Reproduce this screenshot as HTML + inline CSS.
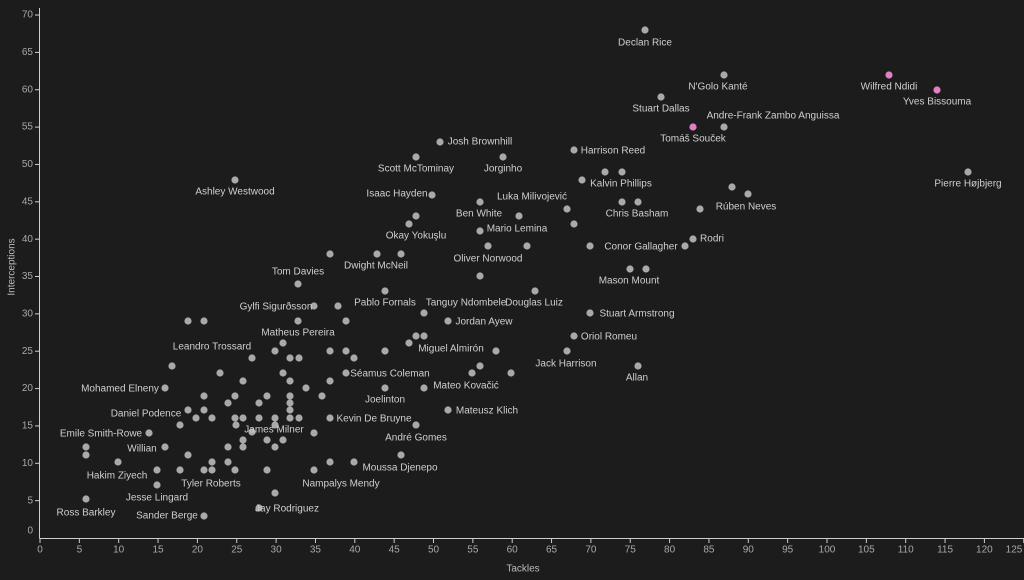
<!DOCTYPE html>
<html><head><meta charset="utf-8"><style>
html,body{margin:0;padding:0;background:#1c1c1c;}
svg{display:block;font-family:"Liberation Sans","DejaVu Sans",sans-serif;}
.l{fill:#cfcfcf;font-size:10px;text-anchor:middle;dominant-baseline:middle;}
.t{fill:#a8a8a8;font-size:10px;dominant-baseline:middle;}
</style></head><body>
<svg width="1024" height="580" viewBox="0 0 1024 580">
<rect width="1024" height="580" fill="#1c1c1c"/>
<g stroke="#cfcfcf" stroke-width="1">
<line x1="39.5" y1="8" x2="39.5" y2="538.5"/>
<line x1="39.5" y1="538.5" x2="1024" y2="538.5"/>
</g>
<g id="xt" stroke="#cfcfcf"></g>
<g id="yt" stroke="#cfcfcf"></g>
<g id="xl" class="t" text-anchor="middle"></g>
<g id="yl" class="t" text-anchor="end"></g>
<text x="523" y="569" class="t" text-anchor="middle" style="fill:#bbb">Tackles</text>
<text transform="translate(12,267) rotate(-90)" class="t" text-anchor="middle" style="fill:#bbb">Interceptions</text>
<g id="dots" fill="#a9a9a9"></g>
<g id="labs"></g>
</svg>
<script>
var ns="http://www.w3.org/2000/svg";
function el(p,t,a,tx){var e=document.createElementNS(ns,t);for(var k in a)e.setAttribute(k,a[k]);if(tx)e.textContent=tx;document.getElementById(p).appendChild(e);}
for(var v=0;v<=125;v+=5){var x=40+v*7.87;el("xt","line",{x1:x,x2:x,y1:538.5,y2:543});el("xl","text",{x:Math.min(x,1014),y:550},String(v));}
for(var v=0;v<=70;v+=5){var y=538-v*7.471;if(v>0)el("yt","line",{x1:35,x2:39.5,y1:y,y2:y});el("yl","text",{x:33,y:v==0?531:y},String(v));}
var d=[[645,30],[724,75],[661,97],[724,127],[440,142],[574,150],[416,157],[503,157],[235,180],[968,172],[582,180],[605,172],[622,172],[432,195],[480,202],[732,187],[748,194],[622,202],[638,202],[700,209],[519,216],[567,209],[574,224],[416,216],[409,224],[480,231],[693,239],[685,246],[590,246],[488,246],[527,246],[330,254],[377,254],[401,254],[630,269],[646,269],[298,284],[385,291],[480,276],[535,291],[314,306],[338,306],[590,313],[424,313],[448,321],[188,321],[204,321],[298,321],[346,321],[574,336],[283,343],[416,336],[424,336],[409,343],[275,351],[290,358],[299,358],[330,351],[346,351],[354,358],[385,351],[496,351],[567,351],[638,366],[252,358],[172,366],[480,366],[472,373],[511,373],[346,373],[220,373],[283,373],[243,381],[290,381],[330,381],[165,388],[424,388],[385,388],[306,388],[322,396],[204,396],[235,396],[267,396],[290,396],[228,403],[259,403],[290,403],[290,410],[290,418],[188,410],[204,410],[196,418],[212,418],[235,418],[243,418],[259,418],[275,418],[299,418],[180,425],[448,410],[330,418],[416,425],[149,433],[236,425],[275,425],[252,432],[314,433],[267,440],[283,440],[243,440],[228,447],[243,447],[275,447],[165,447],[86,447],[86,455],[118,462],[354,462],[401,455],[330,462],[314,470],[267,470],[235,470],[212,470],[204,470],[180,470],[157,470],[188,455],[212,462],[228,462],[157,485],[86,499],[259,508],[204,516],[275,493]];
d.forEach(function(p){el("dots","circle",{cx:p[0],cy:p[1],r:3.6});});
[[889,75],[937,90],[693,127]].forEach(function(p){el("dots","circle",{cx:p[0],cy:p[1],r:3.6,fill:"#e37dc4"});});
var L=[["Declan Rice",645,43],["N'Golo Kanté",718,87],["Wilfred Ndidi",889,87],["Yves Bissouma",937,102],["Stuart Dallas",661,109],["Andre-Frank Zambo Anguissa",773,116],["Tomáš Souček",693,139],["Josh Brownhill",480,142],["Harrison Reed",613,151],["Scott McTominay",416,169],["Jorginho",503,169],["Ashley Westwood",235,192],["Pierre Højbjerg",968,184],["Kalvin Phillips",621,184],["Isaac Hayden",397,194],["Luka Milivojević",532,197],["Rúben Neves",746,207],["Chris Basham",637,214],["Ben White",479,214],["Okay Yokuşlu",416,236],["Mario Lemina",517,229],["Rodri",712,239],["Conor Gallagher",641,247],["Dwight McNeil",376,266],["Oliver Norwood",488,259],["Mason Mount",629,281],["Tom Davies",298,272],["Pablo Fornals",385,303],["Tanguy Ndombele",466,303],["Douglas Luiz",534,303],["Gylfi Sigurðsson",276,307],["Stuart Armstrong",637,314],["Jordan Ayew",484,322],["Matheus Pereira",298,333],["Oriol Romeu",609,337],["Leandro Trossard",212,347],["Miguel Almirón",451,349],["Jack Harrison",566,364],["Allan",637,378],["Séamus Coleman",390,374],["Mohamed Elneny",120,389],["Mateo Kovačić",466,386],["Joelinton",385,400],["Mateusz Klich",487,411],["Kevin De Bruyne",374,419],["Daniel Podence",146,414],["André Gomes",416,438],["Emile Smith-Rowe",101,434],["James Milner",274,430],["Willian",142,449],["Hakim Ziyech",117,476],["Moussa Djenepo",400,468],["Tyler Roberts",211,484],["Nampalys Mendy",341,484],["Jesse Lingard",157,498],["Ross Barkley",86,513],["Jay Rodriguez",287,509],["Sander Berge",167,516]];
L.forEach(function(a){el("labs","text",{x:a[1],y:a[2],"class":"l"},a[0]);});
</script>
</body></html>
